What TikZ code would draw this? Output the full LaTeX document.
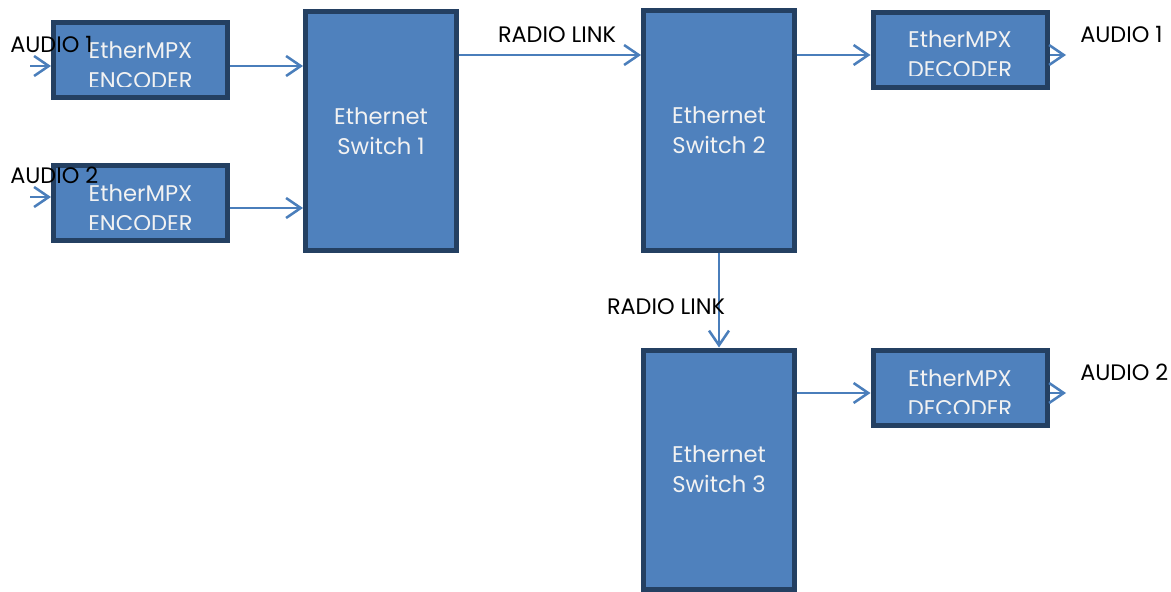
\documentclass[tikz,border=0pt]{standalone}
\usepackage{fontspec}
\setmainfont{Poppins}
\usetikzlibrary{arrows.meta}
\definecolor{boxfill}{RGB}{79,129,189}
\definecolor{boxline}{RGB}{36,64,98}
\definecolor{arrowc}{RGB}{74,126,187}
\definecolor{boxtextc}{RGB}{242,242,242}
\begin{document}
\begin{tikzpicture}[x=0.75pt,y=-0.75pt,
 box/.style={draw=boxline, fill=boxfill, line width=3.75pt, inner sep=0},
 smallbox/.style={box, minimum width=130.5pt, minimum height=56.25pt},
 switchbox/.style={box, minimum width=113.25pt, minimum height=179.25pt},
 boxtext/.style={text=boxtextc, align=center, font=\fontsize{17}{22.5}\selectfont, inner sep=0},
 lbl/.style={text=black, font=\fontsize{16.8}{20}\selectfont, inner sep=0},
 arr/.style={draw=arrowc, line width=1.9pt, -{Straight Barb[length=11pt,width=15pt,line width=1.9pt]}}
]
\useasboundingbox (0,0) rectangle (1171,592);
% boxes
\node[smallbox] (enc1) at (140.5,60) {};
\node[smallbox] (enc2) at (140.5,202.5) {};
\node[switchbox, boxtext] (sw1) at (381,131) {Ethernet\\Switch 1};
\node[switchbox, boxtext] (sw2) at (719,130.5) {Ethernet\\Switch 2};
\node[switchbox, boxtext] (sw3) at (719,469.5) {Ethernet\\Switch 3};
\node[smallbox] (dec1) at (960,50) {};
\node[smallbox] (dec2) at (960,387.5) {};
% clipped box texts
\begin{scope}
\clip ([yshift=9.75pt]enc1.south west) rectangle (enc1.north east);
\node[boxtext] (enc1t) at ([yshift=-4.2pt]enc1.center) {EtherMPX\\ENCODER};
\end{scope}
\begin{scope}
\clip ([yshift=9.75pt]enc2.south west) rectangle (enc2.north east);
\node[boxtext] (enc2t) at ([yshift=-4pt]enc2.center) {EtherMPX\\ENCODER};
\end{scope}
\begin{scope}
\clip ([yshift=10.5pt]dec1.south west) rectangle (dec1.north east);
\node[boxtext] (dec1t) at ([yshift=-3.2pt]dec1.center) {EtherMPX\\DECODER};
\end{scope}
\begin{scope}
\clip ([yshift=10.5pt]dec2.south west) rectangle (dec2.north east);
\node[boxtext] (dec2t) at ([yshift=-4pt]dec2.center) {EtherMPX\\DECODER};
\end{scope}
% helper coordinates
\coordinate (in1) at (30,66);
\coordinate (in2) at (30,197);
\coordinate (e1y) at (0,66);
\coordinate (e2y) at (0,208);
\coordinate (l1) at (0,55);
\coordinate (l2) at (0,393);
\coordinate (out1) at (1066,55);
\coordinate (out2) at (1066,393);
% arrows
\draw[arr] (in1) -- (enc1.west |- in1);
\draw[arr] (in2) -- (enc2.west |- in2);
\draw[arr] (enc1.east |- e1y) -- (sw1.west |- e1y);
\draw[arr] (enc2.east |- e2y) -- (sw1.west |- e2y);
\draw[arr] (sw1.east |- l1) -- (sw2.west |- l1);
\draw[arr] (sw2.east |- l1) -- (dec1.west |- l1);
\draw[arr] (dec1.east |- l1) -- (out1);
\draw[arr] (sw2.south) -- (sw3.north);
\draw[arr] (sw3.east |- l2) -- (dec2.west |- l2);
\draw[arr] (dec2.east |- l2) -- (out2);
% labels
\node[lbl, anchor=west] (a1in) at (10,44) {AUDIO 1};
\node[lbl, anchor=west] (a2in) at (10,175) {AUDIO 2};
\node[lbl] (rl1) at (557,35) {RADIO LINK};
\node[lbl] (rl2) at (666,307) {RADIO LINK};
\node[lbl, anchor=west] (a1out) at (1080,34) {AUDIO 1};
\node[lbl, anchor=west] (a2out) at (1080,372) {AUDIO 2};
\end{tikzpicture}
\end{document}
